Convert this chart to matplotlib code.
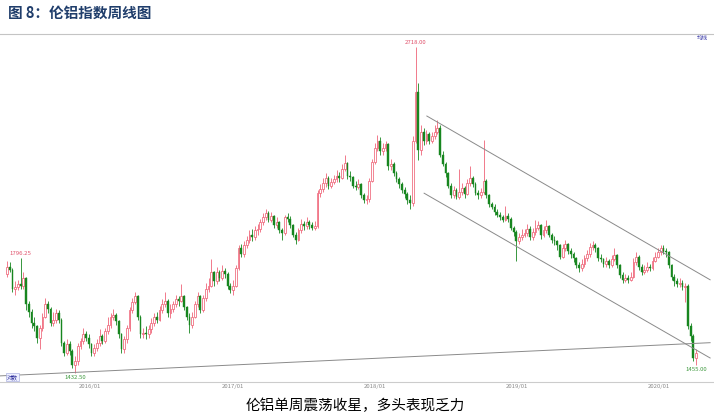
import matplotlib
matplotlib.use('Agg')
import matplotlib.pyplot as plt
import matplotlib.dates as mdates
import numpy as np
import pandas as pd

plt.rcParams['font.family'] = ['Noto Sans CJK SC', 'DejaVu Sans']

# weekly LME aluminium index (open = previous close)
first_week = '2015-06-01'
first_open = 1740

closes = [
    # 2015
    1765, 1755, 1690, 1695, 1705, 1700, 1725, 1640, 1615, 1580,
    1570, 1535, 1565, 1600, 1640, 1625, 1580, 1590, 1610, 1590,
    1520, 1490, 1515, 1495, 1455, 1465, 1510, 1525, 1545, 1535,
    # 2016
    1515, 1490, 1505, 1520, 1540, 1525, 1555, 1575, 1600, 1605,
    1585, 1545, 1500, 1530, 1565, 1620, 1645, 1665, 1600, 1545,
    1550, 1545, 1560, 1580, 1600, 1590, 1620, 1640, 1650, 1610,
    1625, 1640, 1655, 1650, 1665, 1630, 1600, 1575, 1600, 1640,
    1665, 1620, 1660, 1690, 1700, 1745, 1715, 1745, 1725, 1750,
    1740, 1700, 1685,
    # 2017
    1700, 1760, 1830, 1810, 1840, 1860, 1880, 1870, 1895, 1900,
    1925, 1945, 1960, 1935, 1950, 1915, 1925, 1895, 1885, 1945,
    1940, 1915, 1880, 1860, 1895, 1920, 1910, 1925, 1915, 1905,
    1910, 2040, 2055, 2080, 2100, 2070, 2085, 2095, 2110, 2100,
    2140, 2165, 2110, 2105, 2070, 2065, 2075, 2030, 2010, 2015,
    2090, 2170,
    # 2018
    2230, 2260, 2215, 2230, 2245, 2150, 2160, 2120, 2095, 2075,
    2050, 2035, 2010, 2000, 2260, 2490, 2220, 2300, 2260, 2290,
    2260, 2280, 2300, 2320, 2200, 2160, 2120, 2070, 2030, 2050,
    2025, 2045, 2060, 2035, 2080, 2100, 2075, 2040, 2030, 2045,
    2090, 2030, 1995, 1985, 1965, 1955, 1945, 1935, 1950, 1940,
    1905, 1890,
    # 2019
    1855, 1870, 1880, 1885, 1900, 1870, 1890, 1905, 1915, 1880,
    1895, 1910, 1880, 1860, 1855, 1840, 1800, 1830, 1845, 1820,
    1810, 1795, 1770, 1760, 1775, 1795, 1810, 1835, 1840, 1830,
    1795, 1790, 1775, 1785, 1770, 1790, 1805, 1770, 1735, 1720,
    1725, 1720, 1730, 1780, 1800, 1765, 1745, 1755, 1765, 1760,
    1785, 1800,
    # 2020
    1815, 1830, 1820, 1815, 1770, 1730, 1715, 1705, 1710, 1695,
    1700, 1570, 1540, 1475, 1490,
]

highs = [
    1785, 1780, 1760, 1715, 1720, 1796.25, 1745, 1730, 1650, 1625,
    1600, 1575, 1575, 1610, 1660, 1650, 1630, 1615, 1625, 1620,
    1595, 1525, 1530, 1525, 1500, 1480, 1520, 1535, 1565, 1555,
    1545, 1520, 1515, 1530, 1560, 1545, 1565, 1600, 1610, 1625,
    1610, 1590, 1550, 1540, 1575, 1630, 1660, 1680, 1670, 1605,
    1565, 1570, 1575, 1595, 1610, 1615, 1635, 1655, 1680, 1655,
    1640, 1650, 1670, 1665, 1705, 1670, 1635, 1610, 1615, 1650,
    1680, 1670, 1670, 1710, 1725, 1790, 1750, 1765, 1755, 1770,
    1760, 1745, 1710,
    1720, 1770, 1840, 1845, 1855, 1875, 1895, 1900, 1910, 1920,
    1940, 1960, 1977, 1970, 1965, 1955, 1945, 1930, 1905, 1955,
    1960, 1950, 1920, 1890, 1905, 1940, 1930, 1945, 1935, 1925,
    1930, 2050, 2075, 2100, 2120, 2110, 2100, 2115, 2135, 2125,
    2160, 2200, 2170, 2130, 2110, 2090, 2095, 2080, 2040, 2030,
    2100, 2180,
    2250, 2285, 2275, 2250, 2260, 2250, 2180, 2170, 2130, 2105,
    2085, 2065, 2045, 2030, 2280, 2718, 2530, 2330, 2320, 2310,
    2300, 2300, 2330, 2355, 2330, 2215, 2170, 2125, 2080, 2070,
    2060, 2140, 2080, 2070, 2095, 2150, 2110, 2085, 2050, 2060,
    2265, 2095, 2035, 2005, 1995, 1975, 1965, 1955, 1990, 1960,
    1945, 1910,
    1895, 1885, 1900, 1900, 1920, 1910, 1905, 1935, 1930, 1920,
    1910, 1935, 1915, 1885, 1875, 1860, 1845, 1845, 1860, 1850,
    1830, 1815, 1800, 1780, 1790, 1805, 1825, 1850, 1855, 1850,
    1835, 1810, 1795, 1800, 1790, 1805, 1830, 1810, 1775, 1745,
    1740, 1735, 1745, 1795, 1815, 1805, 1775, 1770, 1780, 1775,
    1800, 1815,
    1830, 1840, 1840, 1830, 1820, 1775, 1740, 1725, 1725, 1720,
    1710, 1705, 1580, 1545, 1500,
]

lows = [
    1730, 1745, 1680, 1670, 1685, 1690, 1690, 1620, 1600, 1565,
    1555, 1520, 1500, 1555, 1595, 1610, 1570, 1570, 1580, 1580,
    1510, 1480, 1485, 1485, 1445, 1432.5, 1455, 1500, 1515, 1525,
    1505, 1480, 1480, 1495, 1510, 1515, 1520, 1545, 1565, 1590,
    1575, 1535, 1490, 1490, 1520, 1555, 1610, 1640, 1590, 1535,
    1535, 1530, 1535, 1550, 1570, 1580, 1585, 1610, 1630, 1600,
    1595, 1615, 1630, 1635, 1645, 1620, 1590, 1550, 1565, 1595,
    1630, 1610, 1615, 1650, 1680, 1695, 1700, 1705, 1715, 1720,
    1725, 1690, 1675,
    1670, 1695, 1755, 1800, 1800, 1830, 1850, 1855, 1860, 1880,
    1890, 1915, 1935, 1925, 1925, 1905, 1905, 1885, 1860, 1880,
    1925, 1905, 1870, 1845, 1855, 1885, 1895, 1900, 1900, 1895,
    1895, 1905, 2025, 2045, 2065, 2055, 2060, 2075, 2085, 2085,
    2095, 2130, 2095, 2090, 2060, 2050, 2055, 2020, 2000, 1995,
    2005, 2085,
    2160, 2215, 2200, 2200, 2215, 2135, 2135, 2110, 2085, 2060,
    2040, 2020, 1995, 1975, 1990, 2250, 2175, 2200, 2240, 2245,
    2245, 2250, 2270, 2290, 2190, 2150, 2105, 2060, 2020, 2020,
    2015, 2015, 2030, 2020, 2030, 2070, 2065, 2030, 2015, 2020,
    2035, 2020, 1985, 1975, 1955, 1945, 1935, 1925, 1930, 1925,
    1895, 1875,
    1785, 1845, 1860, 1870, 1875, 1860, 1860, 1880, 1895, 1865,
    1870, 1885, 1870, 1850, 1840, 1825, 1790, 1795, 1820, 1810,
    1795, 1780, 1760, 1745, 1750, 1765, 1785, 1800, 1825, 1815,
    1785, 1780, 1765, 1765, 1760, 1765, 1785, 1760, 1725, 1710,
    1712, 1710, 1715, 1725, 1770, 1755, 1735, 1740, 1745, 1750,
    1755, 1780,
    1795, 1805, 1810, 1800, 1760, 1720, 1700, 1695, 1695, 1685,
    1645, 1560, 1525, 1465, 1455,
]

year_ticks = ['2016-01-01', '2017-01-01', '2018-01-01', '2019-01-01', '2020-01-01']
year_labels = ['2016/01', '2017/01', '2018/01', '2019/01', '2020/01']

# marked extremes: week index, which end
high_marks = [5, 150]
low_marks = [25, 253]

# hand-drawn trend lines (dates, prices)
support_dates = ['2015-05-14', '2020-05-12']
support_prices = [1424, 1520]
channel_top_dates = ['2018-05-15', '2020-05-12']
channel_top_prices = [2373, 1720]
channel_low_dates = ['2018-05-08', '2020-05-12']
channel_low_prices = [2039, 1475]

RED = '#ef6478'
GREEN = '#17861f'

fig = plt.figure(figsize=(7.14, 4.19), dpi=100)
ax = fig.add_axes([0, 37 / 419, 1, 348 / 419])

dates = pd.date_range(first_week, periods=len(closes), freq='7D')
x = mdates.date2num(dates)
c = np.array(closes, dtype=float)
o = np.array([first_open] + closes[:-1], dtype=float)
h = np.array(highs, dtype=float)
l = np.array(lows, dtype=float)
up = c >= o
dn = ~up

ax.vlines(x[up], l[up], h[up], color=RED, lw=0.6, zorder=2)
ax.vlines(x[dn], l[dn], h[dn], color=GREEN, lw=0.6, zorder=2)
ax.bar(x[up], c[up] - o[up], bottom=o[up], width=4.6, facecolor='white',
       edgecolor=RED, lw=0.55, zorder=3)
ax.bar(x[dn], o[dn] - c[dn], bottom=c[dn], width=4.6, facecolor=GREEN,
       edgecolor=GREEN, lw=0.3, zorder=3)

for d, p in [(support_dates, support_prices), (channel_top_dates, channel_top_prices),
             (channel_low_dates, channel_low_prices)]:
    ax.plot(mdates.date2num(pd.to_datetime(d)), p, color='#8a8a8a', lw=0.7, zorder=4)

for i in high_marks:
    ax.annotate('%.2f' % h[i], (x[i], h[i]), xytext=(0, 1.5), textcoords='offset points',
                ha='center', va='bottom', fontsize=4.3, color='#e0506a')
for i in low_marks:
    ax.annotate('%.2f' % l[i], (x[i], l[i]), xytext=(0, -1.5), textcoords='offset points',
                ha='center', va='top', fontsize=4.3, color='#3f9a3f')

ax.set_yscale('log')
ax.set_ylim(1407, 2788)
ax.set_xlim(x[0] - 18, x[0] + 1817)

ax.set_xticks(mdates.date2num(pd.to_datetime(year_ticks)))
ax.set_xticklabels(year_labels)
ax.tick_params(axis='x', length=0, labelsize=4.3, labelcolor='#8a8a8a', pad=1.5)
ax.tick_params(axis='y', which='both', left=False, labelleft=False)
ax.minorticks_off()

for s in ['left', 'right']:
    ax.spines[s].set_visible(False)
ax.spines['top'].set_color('#c4c4c4')
ax.spines['top'].set_linewidth(0.8)
ax.spines['bottom'].set_color('#cccccc')
ax.spines['bottom'].set_linewidth(0.8)

fig.text(8 / 714, 1 - 13 / 419, '图 8：伦铝指数周线图', fontsize=10.5, fontweight='bold',
         color='#1f3d6b', va='center', ha='left')
fig.text(355 / 714, 1 - 406 / 419, '伦铝单周震荡收星，多头表现乏力', fontsize=10.5,
         color='black', va='center', ha='center')
fig.text(7 / 714, 1 - 377 / 419, '对数', fontsize=4, color='#2b2b9a', va='center', ha='left',
         bbox=dict(boxstyle='square,pad=0.15', fc='#eef0ff', ec='#9aa0d8', lw=0.4))
fig.text(697 / 714, 1 - 38 / 419, '均线', fontsize=4, color='#3a3aa8', va='center', ha='left')

fig.savefig('out.png', dpi=100)
